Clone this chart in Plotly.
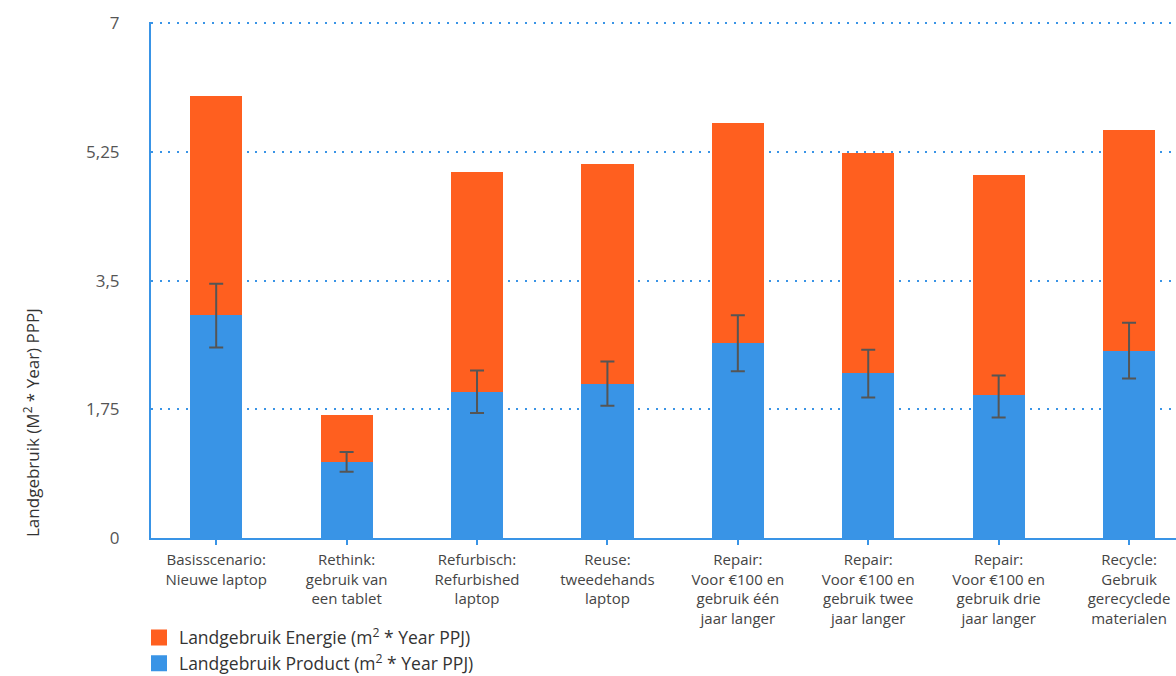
import plotly.graph_objects as go

categories = [
    "Basisscenario:<br>Nieuwe laptop",
    "Rethink:<br>gebruik van<br>een tablet",
    "Refurbisch:<br>Refurbished<br>laptop",
    "Reuse:<br>tweedehands<br>laptop",
    "Repair:<br>Voor €100 en<br>gebruik één<br>jaar langer",
    "Repair:<br>Voor €100 en<br>gebruik twee<br>jaar langer",
    "Repair:<br>Voor €100 en<br>gebruik drie<br>jaar langer",
    "Recycle:<br>Gebruik<br>gerecyclede<br>materialen",
]
product = [3.04, 1.03, 1.99, 2.10, 2.65, 2.24, 1.94, 2.55]
energie = [2.98, 0.65, 2.99, 2.99, 2.99, 3.00, 3.00, 3.00]
err_plus = [0.42, 0.14, 0.29, 0.30, 0.38, 0.32, 0.27, 0.38]
err_minus = [0.45, 0.13, 0.29, 0.30, 0.38, 0.33, 0.30, 0.38]
y_ticks = [0, 1.75, 3.5, 5.25, 7]
y_ticktext = ["0", "1,75", "3,5", "5,25", "7"]
name_energie = "Landgebruik Energie (m<sup>2</sup> * Year PPJ)"
name_product = "Landgebruik Product (m<sup>2</sup> * Year PPJ)"

BLUE = "#3994E6"
ORANGE = "#FF5F1F"
FONT = "Open Sans"

x = list(range(len(categories)))

fig = go.Figure()
fig.add_trace(go.Bar(
    x=x, y=product, name=name_product, showlegend=False,
    marker=dict(color=BLUE, line=dict(width=0)), width=0.4,
))
fig.add_trace(go.Bar(
    x=x, y=energie, name=name_energie, showlegend=False,
    marker=dict(color=ORANGE, line=dict(width=0)), width=0.4,
))
# error bars drawn on top of the stacked bars
fig.add_trace(go.Scatter(
    x=x, y=product, mode="markers", showlegend=False, hoverinfo="skip",
    marker=dict(size=1, opacity=0),
    error_y=dict(type="data", symmetric=False, array=err_plus, arrayminus=err_minus,
                 color="#555555", thickness=2, width=7),
))
# legend entries with larger square symbols
for nm, col in [(name_energie, ORANGE), (name_product, BLUE)]:
    fig.add_trace(go.Scatter(
        x=[None], y=[None], mode="markers", name=nm,
        marker=dict(symbol="square", size=18, color=col),
    ))

fig.update_layout(
    width=1176, height=676,
    barmode="stack",
    plot_bgcolor="white", paper_bgcolor="white",
    margin=dict(l=151, r=0, t=22, b=138, autoexpand=False),
    font=dict(family=FONT, color="#444444", size=14),
    legend=dict(
        orientation="v", traceorder="normal",
        x=(139 - 151) / 1025, y=-0.158, xanchor="left", yanchor="top",
        font=dict(size=17.5, color="#333333", family=FONT),
        bgcolor="rgba(0,0,0,0)", itemwidth=30, tracegroupgap=0,
    ),
    showlegend=True,
)
fig.update_xaxes(
    range=[-0.5, 7.36],
    tickmode="array", tickvals=x, ticktext=categories,
    tickson="boundaries", ticks="outside", ticklen=5, tickwidth=2, tickcolor=BLUE,
    showline=True, linecolor=BLUE, linewidth=2,
    showgrid=False, zeroline=False,
    tickfont=dict(size=15, color="#444444", family=FONT),
    tickangle=0, automargin=False, ticklabelstandoff=2,
)
fig.update_yaxes(
    range=[0, 7.02],
    tickmode="array", tickvals=y_ticks, ticktext=y_ticktext,
    showline=True, linecolor=BLUE, linewidth=2,
    showgrid=True, gridcolor=BLUE, gridwidth=2, griddash="2px,6.7px",
    zeroline=False, ticks="",
    ticklabelstandoff=26, automargin=False,
    tickfont=dict(size=17, color="#555555", family=FONT),
)
fig.add_annotation(
    text="Landgebruik (M<sup>2</sup> * Year) PPPJ",
    xref="paper", yref="paper", x=(31 - 151) / 1025, y=(538 - 423) / 516,
    textangle=-90, showarrow=False, font=dict(size=17, color="#333333", family=FONT),
    xanchor="center", yanchor="middle",
)

fig.write_html("out.html", config={"displayModeBar": False},
               post_script="document.body.style.margin='0px';")
